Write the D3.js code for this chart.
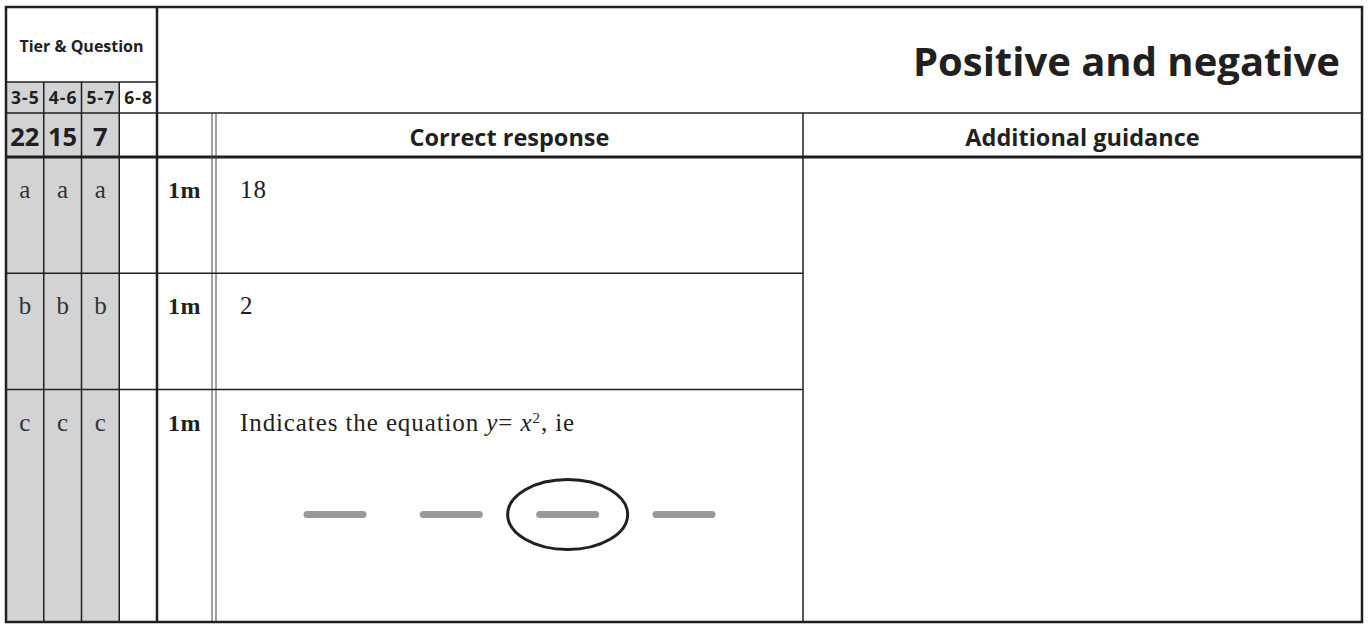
<!DOCTYPE html>
<html>
<head>
<meta charset="utf-8">
<script src="https://cdn.jsdelivr.net/npm/d3@7"></script>
<style>
  html, body { margin: 0; padding: 0; background: #fff; }
</style>
</head>
<body>
<script>
// mark scheme table data
const tiers = ["3-5", "4-6", "5-7", "6-8"];
const questionNumbers = ["22", "15", "7", ""];
const shadedTiers = ["3-5", "4-6", "5-7"];
const parts = ["a", "b", "c"];
const partSizes = [1, 1, 2];
const marks = ["1m", "1m", "1m"];
const responses = ["18", "2", "Indicates the equation"];
const columnHeads = ["Correct response", "Additional guidance"];
const title = "Positive and negative";
const choiceSlots = [0, 1, 2, 3];
const circledSlot = 2;

const width = 1368, height = 625;
const tblLeft = 6, tblRight = 1362, tblTop = 7, tblBottom = 622;
const tierRight = 157, markRight = 212, respLeft = 216, guideLeft = 803;
const headY1 = 82, headY2 = 113, headY3 = 157;

const lineColor = "#231f20";
const shade = "#d1d3d4";
const sans = "'Open Sans', sans-serif";
const serif = "'Liberation Serif', serif";

const svg = d3.select("body").append("svg")
  .attr("width", width)
  .attr("height", height);

const x = d3.scaleBand().domain(tiers).range([tblLeft, tierRight]);

const cum = [0];
partSizes.forEach(s => cum.push(cum[cum.length - 1] + s));
const y = d3.scaleLinear().domain([0, d3.sum(partSizes)]).range([headY3, tblBottom]);

// shaded tier columns
svg.append("g")
  .selectAll("rect")
  .data(shadedTiers)
  .join("rect")
    .attr("x", d => x(d))
    .attr("y", headY1)
    .attr("width", x.bandwidth())
    .attr("height", tblBottom - headY1)
    .attr("fill", shade);

// grid lines
const grid = svg.append("g").attr("stroke", lineColor).attr("fill", "none");
function hline(x1, x2, yy, w) {
  grid.append("line").attr("x1", x1).attr("x2", x2).attr("y1", yy).attr("y2", yy).attr("stroke-width", w);
}
function vline(xx, y1, y2, w, c) {
  grid.append("line").attr("x1", xx).attr("x2", xx).attr("y1", y1).attr("y2", y2)
    .attr("stroke-width", w).attr("stroke", c || lineColor);
}

hline(tblLeft, tierRight, headY1, 1.5);
hline(tblLeft, tblRight, headY2, 1.5);
hline(tblLeft, tblRight, headY3, 3);
tiers.slice(1).forEach(t => vline(x(t), headY1, tblBottom, 1.5));
vline(tierRight, tblTop, tblBottom, 2.5);
vline(markRight, headY2, tblBottom, 1, "#444");
vline(respLeft, headY2, tblBottom, 1, "#444");
vline(guideLeft, headY2, tblBottom, 1.5);
cum.slice(1, -1).forEach(c => hline(tblLeft, guideLeft, y(c), 1.5));

grid.append("rect")
  .attr("x", tblLeft).attr("y", tblTop)
  .attr("width", tblRight - tblLeft).attr("height", tblBottom - tblTop)
  .attr("stroke-width", 2.5);

// header text
svg.append("text")
  .attr("x", (tblLeft + tierRight) / 2).attr("y", 52)
  .attr("text-anchor", "middle")
  .attr("font-family", sans).attr("font-weight", 700).attr("font-size", 16)
  .attr("fill", lineColor)
  .text("Tier & Question");

svg.append("g").selectAll("text")
  .data(tiers)
  .join("text")
    .attr("x", d => x(d) + x.bandwidth() / 2 + 0.5)
    .attr("y", 104)
    .attr("text-anchor", "middle")
    .attr("font-family", sans).attr("font-weight", 700).attr("font-size", 17.5)
    .attr("letter-spacing", 1)
    .attr("fill", lineColor)
    .text(d => d);

svg.append("g").selectAll("text")
  .data(questionNumbers)
  .join("text")
    .attr("x", (d, i) => x(tiers[i]) + x.bandwidth() / 2)
    .attr("y", 146)
    .attr("text-anchor", "middle")
    .attr("font-family", sans).attr("font-weight", 700).attr("font-size", 25.5)
    .attr("fill", lineColor)
    .text(d => d);

svg.append("text")
  .attr("x", 1340).attr("y", 76)
  .attr("text-anchor", "end")
  .attr("font-family", sans).attr("font-weight", 700).attr("font-size", 40)
  .attr("fill", lineColor)
  .text(title);

const headCenters = [(respLeft + guideLeft) / 2, (guideLeft + tblRight) / 2];
svg.append("g").selectAll("text")
  .data(columnHeads)
  .join("text")
    .attr("x", (d, i) => headCenters[i])
    .attr("y", 146)
    .attr("text-anchor", "middle")
    .attr("font-family", sans).attr("font-weight", 700).attr("font-size", 23.5)
    .attr("fill", lineColor)
    .text(d => d);

// part letters
parts.forEach((p, i) => {
  svg.append("g").selectAll("text")
    .data(shadedTiers)
    .join("text")
      .attr("x", d => x(d) + x.bandwidth() / 2)
      .attr("y", y(cum[i]) + 41)
      .attr("text-anchor", "middle")
      .attr("font-family", serif).attr("font-size", 25)
      .attr("fill", "#333")
      .text(p);
});

// marks
svg.append("g").selectAll("text")
  .data(marks)
  .join("text")
    .attr("x", (tierRight + markRight) / 2)
    .attr("y", (d, i) => y(cum[i]) + 41)
    .attr("text-anchor", "middle")
    .attr("font-family", serif).attr("font-weight", 700).attr("font-size", 24)
    .attr("letter-spacing", 0.5)
    .attr("fill", lineColor)
    .text(d => d);

// responses
const resp = svg.append("g").selectAll("text")
  .data(responses)
  .join("text")
    .attr("x", 240)
    .attr("y", (d, i) => y(cum[i]) + 41)
    .attr("font-family", serif).attr("font-size", 25)
    .attr("letter-spacing", 0.9)
    .attr("fill", lineColor)
    .text(d => d);

resp.filter((d, i) => i === 2).each(function() {
  const t = d3.select(this);
  t.append("tspan").text(" ");
  t.append("tspan").attr("font-style", "italic").text("y");
  t.append("tspan").text("= ");
  t.append("tspan").attr("font-style", "italic").text("x");
  t.append("tspan").attr("font-size", 15).attr("baseline-shift", "super").text("2");
  t.append("tspan").text(", ie");
});

// answer choices
const cx = d3.scalePoint().domain(choiceSlots).range([335, 684]);
const choiceY = y(cum[2]) + 125;
svg.append("g").selectAll("line")
  .data(choiceSlots)
  .join("line")
    .attr("x1", d => cx(d) - 28)
    .attr("x2", d => cx(d) + 28)
    .attr("y1", choiceY).attr("y2", choiceY)
    .attr("stroke", "#999")
    .attr("stroke-width", 7)
    .attr("stroke-linecap", "round");

svg.append("ellipse")
  .attr("cx", cx(circledSlot))
  .attr("cy", choiceY)
  .attr("rx", 60).attr("ry", 35)
  .attr("fill", "none")
  .attr("stroke", lineColor)
  .attr("stroke-width", 3);
</script>
</body>
</html>
